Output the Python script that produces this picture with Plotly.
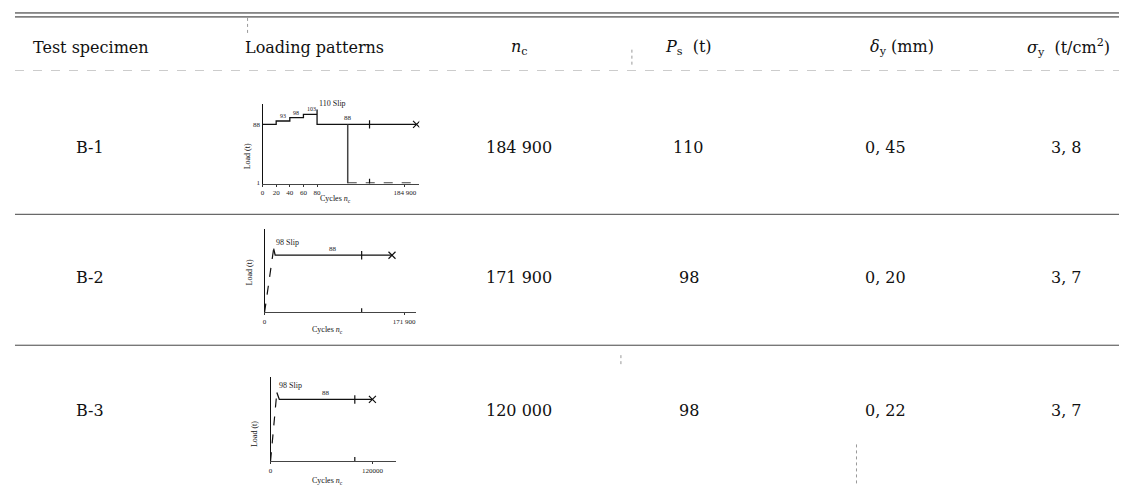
import plotly.graph_objects as go

W, H = 1127, 490

def px(x):
    return x / W

def py(y):
    return 1 - y / H

# ---------------- table data ----------------
headers = ["Test specimen", "Loading patterns", "<i>n</i><sub>c</sub>",
           "<i>P</i><sub>s</sub>  (t)", "<i>δ</i><sub>y</sub> (mm)",
           "<i>σ</i><sub>y</sub>  (t/cm<sup>2</sup>)"]
specimens = ["B-1", "B-2", "B-3"]
n_c = [184900, 171900, 120000]
P_s = [110, 98, 98]
delta_y = [0.45, 0.20, 0.22]
sigma_y = [3.8, 3.7, 3.7]

# ---------------- mini chart data (loading patterns) ----------------
# B-1: stepped loading then constant amplitude
b1_x = [0, 20, 40, 60, 80, 80, 226]
b1_y = [88, 93, 98, 103, 110, 88, 88]
b1_step_labels = ["93", "98", "103"]
b1_step_x = [20, 40, 60]
b1_step_y = [93, 98, 103]
b1_drop_x = [125, 125]
b1_drop_y = [88, 0]
b1_low_x = [125, 226]
b1_low_y = [1, 1]
b1_end = 226
b1_break = 157
b1_xticks = [0, 20, 40, 60, 80, 209]
b1_xtext = ["0", "20", "40", "60", "80", "184 900"]

# B-2
b2_rise_x = [0, 6]
b2_rise_y = [0, 98]
b2_x = [6, 7, 84]
b2_y = [98, 88, 88]
b2_break = 64
b2_xticks = [0, 92]
b2_xtext = ["0", "171 900"]

# B-3
b3_rise_x = [0, 5]
b3_rise_y = [0, 98]
b3_x = [5, 7, 81]
b3_y = [98, 88, 88]
b3_break = 67
b3_xticks = [0, 81]
b3_xtext = ["0", "120000"]

SERIF = "DejaVu Serif"
SMALL = "Liberation Serif"
fig = go.Figure()

def add_line(x, y, ax, dash="solid", color="#111", width=1.3):
    fig.add_trace(go.Scatter(x=x, y=y, mode="lines", xaxis="x" + ax, yaxis="y" + ax,
                             line=dict(color=color, width=width, dash=dash),
                             hoverinfo="skip"))

def add_marker(x, y, ax, symbol, size=6):
    fig.add_trace(go.Scatter(x=x, y=y, mode="markers", xaxis="x" + ax, yaxis="y" + ax,
                             marker=dict(symbol=symbol, size=size, color="#111",
                                         line=dict(color="#111", width=1.2)),
                             hoverinfo="skip"))

# chart 1
fig.add_trace(go.Scatter(x=b1_x, y=b1_y, mode="lines", line_shape="hv", xaxis="x", yaxis="y",
                         line=dict(color="#111", width=1.3), hoverinfo="skip"))
add_line(b1_drop_x, b1_drop_y, "", color="#444", width=1.5)
add_line(b1_low_x, b1_low_y, "", dash="dash", color="#444", width=1.2)
add_marker([b1_break, b1_break], [88, 1], "", "line-ns-open", 6)
add_marker([b1_end], [88], "", "x-thin-open", 7)

# chart 2
add_line(b2_rise_x, b2_rise_y, "2", dash="dash", width=1.2)
add_line(b2_x, b2_y, "2")
add_marker([b2_break, b2_break], [88, 0], "2", "line-ns-open", 6)
add_marker([b2_x[-1]], [88], "2", "x-thin-open", 7)

# chart 3
add_line(b3_rise_x, b3_rise_y, "3", dash="dash", width=1.2)
add_line(b3_x, b3_y, "3")
add_marker([b3_break, b3_break], [88, 0], "3", "line-ns-open", 6)
add_marker([b3_x[-1]], [88], "3", "x-thin-open", 7)

def mini_axes(xdom, ydom, xr, yr, xticks, xtext, yticks=None, ytext=None, anchor_x="y", anchor_y="x"):
    xa = dict(domain=[px(xdom[0]), px(xdom[1])], range=xr, anchor=anchor_x,
              showline=True, linecolor="#444", linewidth=1, showgrid=False, zeroline=False,
              tickvals=xticks, ticktext=xtext, ticks="outside", ticklen=2, tickcolor="#333",
              tickfont=dict(size=7, family=SMALL, color="#222"))
    ya = dict(domain=[py(ydom[1]), py(ydom[0])], range=yr, anchor=anchor_y,
              showline=True, linecolor="#111", linewidth=1.3, showgrid=False, zeroline=False,
              tickvals=yticks if yticks else [], ticktext=ytext if ytext else [],
              ticks="", tickfont=dict(size=7, family=SMALL, color="#222"))
    return xa, ya

xa1, ya1 = mini_axes((253, 410), (97, 177), [0, 230], [0, 118], b1_xticks, b1_xtext,
                     [1, 88], ["1", "88"], "y", "x")
xa2, ya2 = mini_axes((255, 407), (223, 307), [0, 100], [0, 128], b2_xticks, b2_xtext,
                     None, None, "y2", "x2")
xa3, ya3 = mini_axes((261, 387), (372, 457), [0, 100], [0, 120], b3_xticks, b3_xtext,
                     None, None, "y3", "x3")

ann = []
def T(x, y, text, size=16, xanchor="center", yanchor="middle", angle=0, color="#111", family=SERIF):
    ann.append(dict(x=px(x), y=py(y), xref="paper", yref="paper", text=text, showarrow=False,
                    xanchor=xanchor, yanchor=yanchor, textangle=angle,
                    font=dict(family=family, size=size, color=color)))

def TD(x, y, text, ax, size=7, xanchor="center", yanchor="bottom"):
    ann.append(dict(x=x, y=y, xref="x" + ax, yref="y" + ax, text=text, showarrow=False,
                    xanchor=xanchor, yanchor=yanchor, font=dict(family=SMALL, size=size, color="#222")))

# headers
head_x = [81, 305, 510, 680, 894, 1060]
for hx, h in zip(head_x, headers):
    T(hx, 40, h)

row_y = [141, 272, 406]
val_x = [80, 510, 680, 877, 1058]
for i in range(3):
    T(val_x[0], row_y[i], specimens[i])
    s = f"{n_c[i]:,}".replace(",", " ")
    T(val_x[1], row_y[i], s)
    T(val_x[2], row_y[i], str(P_s[i]))
    T(val_x[3], row_y[i], f"{delta_y[i]:.2f}".replace(".", ", "))
    T(val_x[4], row_y[i], f"{sigma_y[i]:.1f}".replace(".", ", "))

# mini chart labels
for lx, ly, lt in zip(b1_step_x, b1_step_y, b1_step_labels):
    TD(lx + 2, ly, lt, "", xanchor="left", size=6)
TD(80, 110, "110 Slip", "", size=8, xanchor="left")
TD(b1_drop_x[0], 88, "88", "")
TD(b2_x[0], b2_y[0], "98 Slip", "2", size=8, xanchor="left")
TD(45, 88, "88", "2")
TD(b3_x[0], b3_y[0], "98 Slip", "3", size=8, xanchor="left")
TD(44, 88, "88", "3")

for (lx, ly) in [(238, 150), (240, 267), (245, 430)]:
    T(lx, ly, "Load (t)", size=8, angle=-90, family=SMALL)
for (lx, ly) in [(326, 193), (318, 325), (318, 477)]:
    T(lx, ly, "Cycles <i>n</i><sub>c</sub>", size=8, family=SMALL)

shapes = []
def HL(y, x0=5, x1=1122, color="#222", width=1, dash="solid"):
    shapes.append(dict(type="line", xref="paper", yref="paper", x0=px(x0), x1=px(x1),
                       y0=py(y), y1=py(y), line=dict(color=color, width=width, dash=dash)))

def VL(x, y0, y1, color="#999"):
    shapes.append(dict(type="line", xref="paper", yref="paper", x0=px(x), x1=px(x),
                       y0=py(y0), y1=py(y1), line=dict(color=color, width=1, dash="dot")))

HL(5)
HL(9)
HL(63, color="#ccc", dash="dash")
HL(208, color="#444")
HL(340, color="#444")
VL(238, 10, 28)
VL(623, 42, 58)
VL(612, 350, 360)
VL(848, 440, 480)

fig.update_layout(
    width=W, height=H, margin=dict(l=0, r=0, t=0, b=0),
    paper_bgcolor="white", plot_bgcolor="white", showlegend=False,
    xaxis=xa1, yaxis=ya1, xaxis2=xa2, yaxis2=ya2, xaxis3=xa3, yaxis3=ya3,
    annotations=ann, shapes=shapes,
)

fig.write_html("out.html")
